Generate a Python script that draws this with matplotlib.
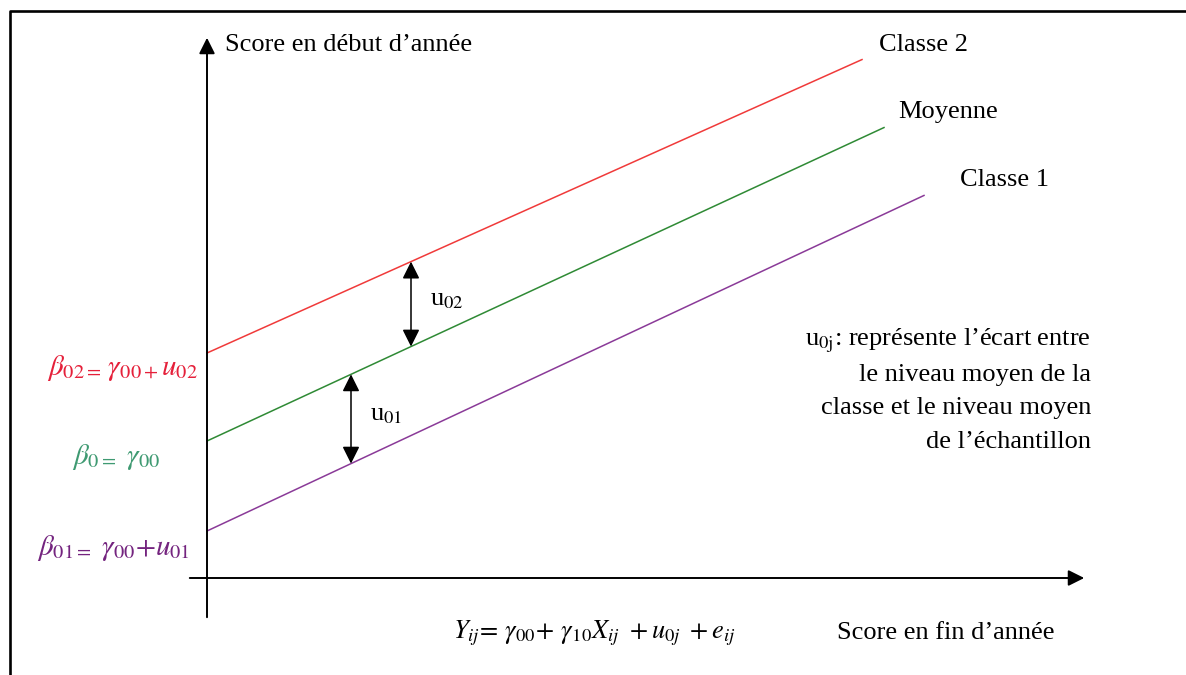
import matplotlib
matplotlib.use('Agg')
import matplotlib.pyplot as plt
import numpy as np

plt.rcParams['font.family'] = ['Liberation Serif', 'DejaVu Serif']
plt.rcParams['mathtext.fontset'] = 'stix'

# lines: intercept, slope, end of x (origin at the axes crossing)
names = ['Classe 2', 'Moyenne', 'Classe 1']
intercepts = [225, 137, 47]
slopes = [0.448, 0.463, 0.468]
x_end = [655, 677, 717]
line_colors = ['#f03a3a', '#2f8a35', '#8a3a98']

label_texts = [r'$\beta_{02=}\,\gamma_{00+}u_{02}$',
               r'$\beta_{0=}\ \gamma_{00}$',
               r'$\beta_{01=}\ \gamma_{00}{+}u_{01}$']
label_colors = ['#e5203a', '#3f9a72', '#74247f']

# double arrows between lines: x position, upper line, lower line, label
gaps = [(204, 0, 1, r'u$_{02}$'), (144, 1, 2, r'u$_{01}$')]

desc = [r'u$_{\mathrm{0j}}$: représente l’écart entre',
        'le niveau moyen de la',
        'classe et le niveau moyen',
        'de l’échantillon']

fig = plt.figure(figsize=(11.86, 6.75), dpi=100)
ax = fig.add_axes([0, 0, 1, 1])
ax.set_xlim(-207, 979)
ax.set_ylim(-97, 578)
ax.axis('off')

# frame
ax.plot([-197, -197, 1100], [-200, 567, 567], color='black', lw=1.9)

# axes with arrows
ax.annotate('', xy=(0, 543), xytext=(0, -42),
            arrowprops=dict(arrowstyle='-|>', lw=1.4, color='black', mutation_scale=24))
ax.annotate('', xy=(880, 0), xytext=(-20, 0),
            arrowprops=dict(arrowstyle='-|>', lw=1.4, color='black', mutation_scale=24))

for b, s, xe, c in zip(intercepts, slopes, x_end, line_colors):
    xs = np.array([0, xe])
    ax.plot(xs, b + s * xs, color=c, lw=1.1)

line_labels_pos = [(672, 533), (691, 466), (753, 398)]
for n, (tx, ty) in zip(names, line_labels_pos):
    ax.text(tx, ty, n, fontsize=19, va='center', ha='left')

for xg, i, j, lab in gaps:
    y_top = intercepts[i] + slopes[i] * xg
    y_bot = intercepts[j] + slopes[j] * xg
    ax.annotate('', xy=(xg, y_top), xytext=(xg, y_bot),
                arrowprops=dict(arrowstyle='<|-|>', lw=1.1, color='black',
                                mutation_scale=26, shrinkA=0, shrinkB=0))
    ax.text(xg + 19, (y_top + y_bot) / 2 + 4, lab, fontsize=19, va='center', ha='left')

label_pos = [(-9, 210), (-47, 121), (-17, 30)]
for t, c, (tx, ty) in zip(label_texts, label_colors, label_pos):
    ax.text(tx, ty, t, fontsize=21, color=c, va='center', ha='right')

for k, line in enumerate(desc):
    ax.text(884, 237 - 33.5 * k, line, fontsize=19, va='center', ha='right')

ax.text(18, 533, 'Score en début d’année', fontsize=19, va='center', ha='left')
ax.text(630, -55, 'Score en fin d’année', fontsize=19, va='center', ha='left')
ax.text(246, -55,
        r'$Y_{ij}\!=\,\gamma_{00}\!+\,\gamma_{10}X_{ij}\ +u_{0j}\ +e_{ij}$',
        fontsize=19, va='center', ha='left')

fig.savefig('out.png', dpi=100)
